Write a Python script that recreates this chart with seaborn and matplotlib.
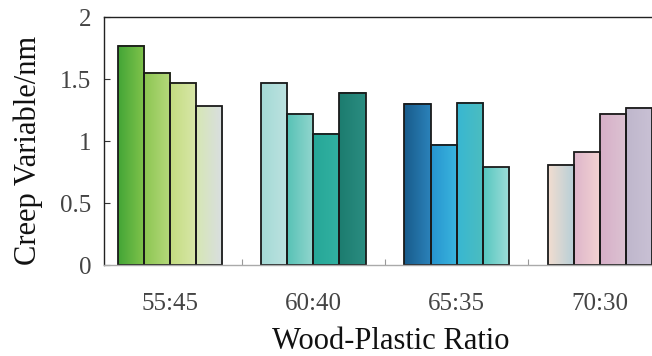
import numpy as np
import pandas as pd
import seaborn as sns
import matplotlib.pyplot as plt
from matplotlib.colors import to_rgb
from matplotlib.ticker import FixedLocator

# Data
ratios = ["55:45", "60:40", "65:35", "70:30"]
samples = ["A", "B", "C", "D"]
creep_5545 = [1.77, 1.55, 1.47, 1.28]
creep_6040 = [1.47, 1.22, 1.06, 1.39]
creep_6535 = [1.30, 0.97, 1.31, 0.79]
creep_7030 = [0.81, 0.91, 1.22, 1.27]

# left -> right gradient colours for each bar
grad_5545 = [("#43a536", "#82c44c"), ("#8cc652", "#b6d97c"),
             ("#c3dc80", "#d9e7aa"), ("#d6e7b4", "#d9dee2")]
grad_6040 = [("#a4dad6", "#bde2e0"), ("#57c2b6", "#93d6ce"),
             ("#26a797", "#32b1a2"), ("#1c7c6f", "#2b8d81")]
grad_6535 = [("#185b8b", "#2b82ba"), ("#2794cf", "#3ab6de"),
             ("#38b7d2", "#4cbdbf"), ("#55c6bf", "#a0deda")]
grad_7030 = [("#f2ddd0", "#b5cfd8"), ("#deb6cb", "#f3d3d2"),
             ("#d7afc8", "#dcc3d2"), ("#bfb7cc", "#c9c1d5")]

df = pd.DataFrame({
    "ratio": np.repeat(ratios, len(samples)),
    "sample": samples * len(ratios),
    "creep": creep_5545 + creep_6040 + creep_6535 + creep_7030,
})
gradients = [grad_5545, grad_6040, grad_6535, grad_7030]

sns.set_style("white")
plt.rcParams["font.family"] = ["Liberation Serif", "DejaVu Serif"]

fig = plt.figure(figsize=(6.52, 3.56), dpi=100)
ax = fig.add_axes([104 / 652, 91 / 356, 562 / 652, 248 / 356])

sns.barplot(data=df, x="ratio", y="creep", hue="sample", order=ratios,
            hue_order=samples, width=0.73, gap=0, legend=False,
            edgecolor="#1a1a1a", linewidth=1.3, ax=ax)

# gradient fill under each bar outline
for h, cont in enumerate(ax.containers):
    for g, bar in enumerate(cont):
        x0, w, ht = bar.get_x(), bar.get_width(), bar.get_height()
        c0, c1 = (np.array(to_rgb(c)) for c in gradients[g][h])
        t = np.linspace(0, 1, 64)[:, None]
        img = (c0 * (1 - t) + c1 * t)[None, :, :]
        ax.imshow(img, extent=[x0, x0 + w, 0, ht], aspect="auto",
                  zorder=1, interpolation="bilinear")
        bar.set_facecolor("none")
        bar.set_zorder(2)

ax.set_xlim(-0.46, 3.46)
ax.set_ylim(0, 2)
ax.set_yticks([0, 0.5, 1, 1.5, 2])
ax.set_yticklabels(["0", "0.5", "1", "1.5", "2"])
ax.xaxis.set_minor_locator(FixedLocator([0.5, 1.5, 2.5]))

ax.tick_params(axis="y", direction="in", length=4, width=0.8,
               color="#333333", labelsize=18, labelcolor="#444444", pad=9,
               left=True)
ax.tick_params(axis="x", which="major", length=0, labelsize=18,
               labelcolor="#444444", pad=20)
ax.tick_params(axis="x", which="minor", direction="in", length=4,
               width=0.8, color="#999999", bottom=True)

for side in ["left", "top"]:
    ax.spines[side].set_color("#222222")
    ax.spines[side].set_linewidth(1.0)
ax.spines["bottom"].set_color("#aaaaaa")
ax.spines["bottom"].set_linewidth(1.0)
ax.spines["right"].set_visible(False)

ax.set_xlabel("Wood-Plastic Ratio", fontsize=22, color="#111111")
ax.set_ylabel("Creep Variable/nm", fontsize=22, color="#111111")
ax.xaxis.set_label_coords((391 - 104) / 562, -0.25)
ax.yaxis.set_label_coords((43 - 104) / 562, 0.46)

fig.savefig("out.png", dpi=100)
